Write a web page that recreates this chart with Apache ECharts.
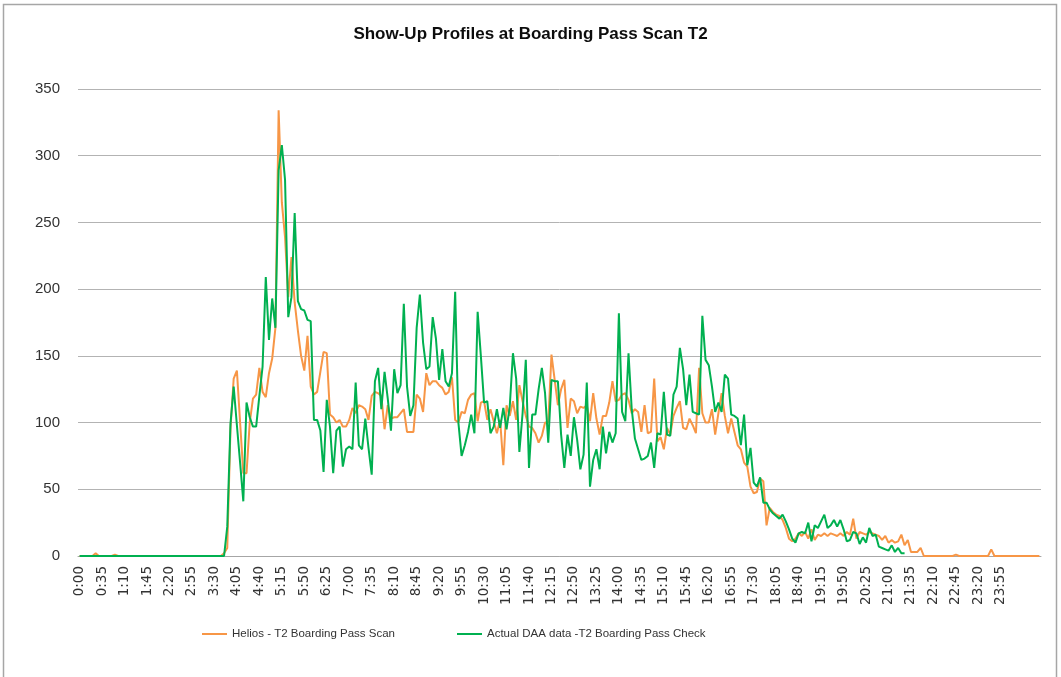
<!DOCTYPE html>
<html>
<head>
<meta charset="utf-8">
<title>Show-Up Profiles at Boarding Pass Scan T2</title>
<script src="https://cdn.jsdelivr.net/npm/echarts@6/dist/echarts.min.js"></script>
<style>
  html, body { margin: 0; padding: 0; background: #fff; }
  #main { width: 1061px; height: 677px; }
</style>
</head>
<body>
<div id="main"></div>
<script>
// 5 分钟时间槽 0:00 ... 23:55，后面还有 12 个没有标签的空槽
const timeSlots = []
for (let m = 0; m < 24 * 60; m += 5) {
  timeSlots.push(Math.floor(m / 60) + ':' + String(m % 60).padStart(2, '0'))
}
const emptySlots = ['', '', '', '', '', '', '', '', '', '', '', '']
const categories = timeSlots.concat(emptySlots)

const yTicks = [0, 50, 100, 150, 200, 250, 300, 350]

const seriesNames = ['Helios - T2 Boarding Pass Scan', 'Actual DAA data -T2 Boarding Pass Check']

// Helios 预测值
const heliosScan = [
  0, 0, 0, 0, 0, 2, 0, 0, 0, 0,
  0, 1, 0, 0, 0, 0, 0, 0, 0, 0,
  0, 0, 0, 0, 0, 0, 0, 0, 0, 0,
  0, 0, 0, 0, 0, 0, 0, 0, 0, 0,
  0, 0, 0, 0, 0, 2, 6, 95, 133, 139,
  100, 62, 62, 100, 118, 121, 141, 123, 119, 137,
  148, 171, 334, 265, 239, 194, 224, 190, 169, 150,
  139, 165, 127, 121, 123, 138, 153, 152, 106, 104,
  100, 102, 97, 97, 102, 111, 107, 113, 112, 110,
  102, 120, 123, 122, 120, 95, 113, 103, 104, 104,
  107, 110, 93, 93, 93, 121, 118, 108, 137, 128,
  131, 131, 128, 126, 121, 123, 134, 102, 100, 108,
  107, 117, 121, 122, 101, 115, 116, 102, 110, 101,
  92, 102, 68, 113, 105, 116, 102, 128, 116, 105,
  97, 96, 92, 85, 90, 100, 100, 151, 132, 113,
  125, 132, 96, 118, 116, 107, 112, 111, 113, 101,
  122, 103, 91, 105, 105, 115, 131, 116, 117, 121,
  122, 117, 107, 110, 108, 93, 113, 92, 93, 133,
  86, 89, 80, 96, 91, 105, 111, 116, 96, 95,
  103, 98, 92, 141, 107, 100, 100, 110, 91, 107,
  122, 105, 92, 103, 93, 83, 80, 70, 67, 52,
  47, 48, 58, 56, 23, 36, 33, 31, 30, 27,
  21, 13, 11, 13, 17, 15, 18, 13, 20, 12,
  16, 15, 17, 15, 17, 16, 15, 17, 15, 18,
  16, 28, 13, 18, 17, 16, 18, 17, 16, 15,
  12, 15, 10, 12, 10, 11, 16, 8, 12, 3,
  3, 3, 6, 0, 0, 0, 0, 0, 0, 0,
  0, 0, 0, 1, 0, 0, 0, 0, 0, 0,
  0, 0, 0, 0, 5, 0, 0, 0, 0, 0,
  0, 0, 0, 0, 0, 0, 0, 0, 0, 0
]

// 实际 DAA 数据（21:25 之后没有数据）
const actualCheck = [
  0, 0, 0, 0, 0, 0, 0, 0, 0, 0,
  0, 0, 0, 0, 0, 0, 0, 0, 0, 0,
  0, 0, 0, 0, 0, 0, 0, 0, 0, 0,
  0, 0, 0, 0, 0, 0, 0, 0, 0, 0,
  0, 0, 0, 0, 0, 0, 22, 99, 127, 98,
  70, 41, 115, 104, 97, 97, 120, 142, 209, 162,
  193, 171, 289, 308, 282, 179, 194, 257, 191, 185,
  184, 177, 176, 102, 102, 94, 63, 117, 97, 62,
  94, 97, 67, 80, 82, 80, 130, 83, 80, 103,
  81, 61, 131, 141, 110, 138, 118, 94, 140, 122,
  128, 189, 127, 105, 113, 171, 196, 160, 140, 142,
  179, 163, 132, 155, 131, 127, 137, 198, 100, 75,
  83, 93, 106, 92, 183, 150, 115, 116, 92, 97,
  110, 96, 111, 95, 112, 152, 133, 78, 107, 147,
  66, 106, 106, 125, 141, 122, 85, 132, 131, 131,
  91, 66, 91, 75, 104, 87, 65, 76, 130, 52,
  72, 80, 65, 97, 77, 93, 85, 92, 182, 108,
  101, 152, 110, 88, 80, 72, 73, 75, 85, 66,
  92, 91, 123, 91, 90, 121, 127, 156, 140, 113,
  136, 108, 107, 106, 180, 147, 143, 127, 108, 115,
  108, 136, 133, 106, 105, 103, 83, 106, 68, 81,
  55, 52, 59, 40, 40, 35, 32, 30, 28, 31,
  26, 20, 13, 10, 17, 18, 17, 25, 11, 23,
  21, 26, 31, 21, 23, 27, 22, 27, 20, 11,
  12, 18, 17, 9, 14, 10, 21, 15, 16, 7,
  6, 5, 4, 8, 3, 6, 2, 2
]

const chartInstance = echarts.init(document.getElementById('main'), null, { renderer: 'canvas' })

const baseFont = '"Liberation Sans", Arial, sans-serif'

const option = {
  animation: false,
  backgroundColor: '#fff',
  title: {
    text: 'Show-Up Profiles at Boarding Pass Scan T2',
    left: 'center',
    top: 21,
    textStyle: {
      fontFamily: baseFont,
      fontSize: 17,
      fontWeight: 'bold',
      color: '#0d0d0d'
    }
  },
  // 外框
  graphic: [
    {
      type: 'rect',
      shape: { x: 3.5, y: 4.5, width: 1053, height: 690 },
      style: { fill: 'none', stroke: '#a6a6a6', lineWidth: 1.5 },
      silent: true
    }
  ],
  legend: {
    left: 197,
    top: 623,
    itemGap: 62,
    itemWidth: 25,
    itemHeight: 2,
    icon: 'rect',
    textStyle: {
      fontFamily: baseFont,
      fontSize: 11.5,
      color: '#333'
    },
    data: seriesNames
  },
  grid: {
    left: 78,
    right: 20,
    top: 89,
    bottom: 121,
    containLabel: false
  },
  xAxis: {
    type: 'category',
    boundaryGap: true,
    data: categories,
    axisLine: { lineStyle: { color: '#a6a6a6', width: 1 } },
    axisTick: { show: false },
    axisLabel: {
      interval: 6,
      rotate: 90,
      margin: 10,
      fontFamily: '"DejaVu Sans", sans-serif',
      fontSize: 13.5,
      color: '#333'
    }
  },
  yAxis: {
    type: 'value',
    min: yTicks[0],
    max: yTicks[yTicks.length - 1],
    interval: 50,
    axisLine: { show: false },
    axisTick: { show: false },
    splitLine: { lineStyle: { color: '#b3b3b3', width: 1 } },
    axisLabel: {
      margin: 18,
      fontFamily: baseFont,
      fontSize: 15,
      color: '#333'
    }
  },
  series: [
    {
      name: seriesNames[0],
      type: 'line',
      data: heliosScan,
      symbol: 'none',
      color: '#F79646',
      lineStyle: { width: 2, color: '#F79646' },
      z: 2
    },
    {
      name: seriesNames[1],
      type: 'line',
      data: actualCheck,
      symbol: 'none',
      color: '#00B050',
      lineStyle: { width: 2, color: '#00B050' },
      z: 3
    }
  ]
}

chartInstance.setOption(option)
</script>
</body>
</html>
